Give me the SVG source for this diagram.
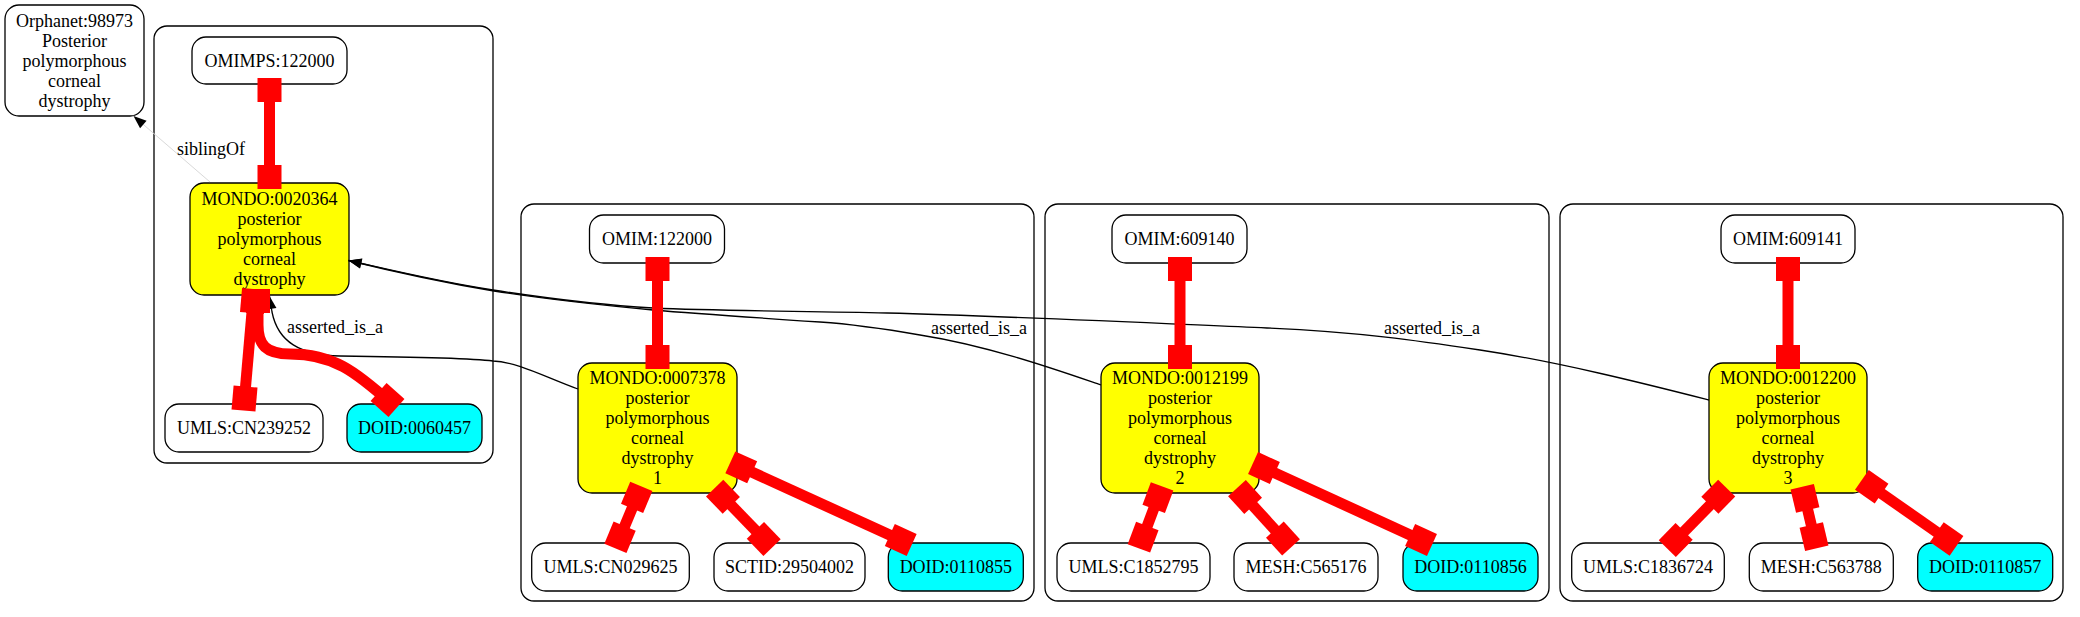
<svg xmlns="http://www.w3.org/2000/svg" width="2080" height="617" viewBox="0 0 2080 617">
<defs>
<style>
.bg{fill:#fff}
.cl{fill:none;stroke:#000;stroke-width:1.3}
.n rect{fill:#fff;stroke:#000;stroke-width:1.3}
.n.m rect{fill:#ffff00}
.n.d rect{fill:#00ffff}
text{font-family:"Liberation Serif","Times New Roman",serif;font-size:18px;fill:#000}
.n text{text-anchor:middle}
.r{fill:none;stroke:#ff0000;stroke-width:11;marker-start:url(#box);marker-end:url(#box)}
.b{fill:none;stroke:#000;stroke-width:1.3;marker-end:url(#arr)}
.s{fill:none;stroke:#d9d9d9;stroke-width:1;marker-end:url(#arr)}
</style>
<marker id="box" markerUnits="userSpaceOnUse" markerWidth="24" markerHeight="24" refX="18" refY="12" orient="auto-start-reverse" overflow="visible"><rect width="24" height="24" fill="#ff0000"/></marker>
<marker id="arr" markerUnits="userSpaceOnUse" markerWidth="14" markerHeight="10" refX="13" refY="5" orient="auto" overflow="visible"><path d="M0,0 L13,5 L0,10 z" fill="#000"/></marker>
</defs>
<rect class="bg" width="2080" height="617"/>
<g id="clusters">
<rect class="cl" x="154" y="26" width="339" height="437" rx="13"/>
<rect class="cl" x="521" y="204" width="513" height="397" rx="13"/>
<rect class="cl" x="1045" y="204" width="504" height="397" rx="13"/>
<rect class="cl" x="1560" y="204" width="503" height="397" rx="13"/>
</g>
<g id="orphanet" class="n"><rect x="5" y="5" width="139" height="111" rx="14"/>
<text x="74.5" y="26.5">Orphanet:98973</text><text x="74.5" y="46.5">Posterior</text><text x="74.5" y="66.5">polymorphous</text><text x="74.5" y="86.5">corneal</text><text x="74.5" y="106.5">dystrophy</text></g>
<g id="omimps122000" class="n"><rect x="192" y="37" width="155" height="47" rx="14"/><text x="269.5" y="66.5">OMIMPS:122000</text></g>
<g id="mondo0020364" class="n m"><rect x="190" y="183" width="159" height="112" rx="14"/>
<text x="269.5" y="205">MONDO:0020364</text><text x="269.5" y="225">posterior</text><text x="269.5" y="245">polymorphous</text><text x="269.5" y="265">corneal</text><text x="269.5" y="285">dystrophy</text></g>
<g id="umlscn239252" class="n"><rect x="165" y="404" width="158" height="48" rx="14"/><text x="244" y="434">UMLS:CN239252</text></g>
<g id="doid0060457" class="n d"><rect x="347" y="404" width="135" height="48" rx="14"/><text x="414.5" y="434">DOID:0060457</text></g>

<g id="omim122000" class="n"><rect x="589.5" y="215" width="135" height="48" rx="14"/><text x="657" y="245">OMIM:122000</text></g>
<g id="mondo0007378" class="n m"><rect x="578" y="363" width="159" height="130" rx="14"/>
<text x="657.5" y="384">MONDO:0007378</text><text x="657.5" y="404">posterior</text><text x="657.5" y="424">polymorphous</text><text x="657.5" y="444">corneal</text><text x="657.5" y="464">dystrophy</text><text x="657.5" y="484">1</text></g>
<g id="umlscn029625" class="n"><rect x="531.7" y="543" width="157.6" height="48" rx="14"/><text x="610.5" y="573">UMLS:CN029625</text></g>
<g id="sctid29504002" class="n"><rect x="714" y="543" width="151" height="48" rx="14"/><text x="789.5" y="573">SCTID:29504002</text></g>
<g id="doid0110855" class="n d"><rect x="888.3" y="543" width="135" height="48" rx="14"/><text x="955.8" y="573">DOID:0110855</text></g>

<g id="omim609140" class="n"><rect x="1112" y="215" width="135" height="48" rx="14"/><text x="1179.5" y="245">OMIM:609140</text></g>
<g id="mondo0012199" class="n m"><rect x="1101" y="363" width="158" height="130" rx="14"/>
<text x="1180" y="384">MONDO:0012199</text><text x="1180" y="404">posterior</text><text x="1180" y="424">polymorphous</text><text x="1180" y="444">corneal</text><text x="1180" y="464">dystrophy</text><text x="1180" y="484">2</text></g>
<g id="umlsc1852795" class="n"><rect x="1057" y="543" width="153" height="48" rx="14"/><text x="1133.5" y="573">UMLS:C1852795</text></g>
<g id="meshc565176" class="n"><rect x="1234" y="543" width="144" height="48" rx="14"/><text x="1306" y="573">MESH:C565176</text></g>
<g id="doid0110856" class="n d"><rect x="1403" y="543" width="135" height="48" rx="14"/><text x="1470.5" y="573">DOID:0110856</text></g>

<g id="omim609141" class="n"><rect x="1721" y="215" width="134" height="48" rx="14"/><text x="1788" y="245">OMIM:609141</text></g>
<g id="mondo0012200" class="n m"><rect x="1709" y="363" width="158" height="130" rx="14"/>
<text x="1788" y="384">MONDO:0012200</text><text x="1788" y="404">posterior</text><text x="1788" y="424">polymorphous</text><text x="1788" y="444">corneal</text><text x="1788" y="464">dystrophy</text><text x="1788" y="484">3</text></g>
<g id="umlsc1836724" class="n"><rect x="1571.7" y="543" width="152.6" height="48" rx="14"/><text x="1648" y="573">UMLS:C1836724</text></g>
<g id="meshc563788" class="n"><rect x="1749.3" y="543" width="144" height="48" rx="14"/><text x="1821.3" y="573">MESH:C563788</text></g>
<g id="doid0110857" class="n d"><rect x="1917.7" y="543" width="135" height="48" rx="14"/><text x="1985.2" y="573">DOID:0110857</text></g>

<g id="connectors">
<path class="s" d="M210,182 L133.5,116"/>
<text x="177" y="155">siblingOf</text>
<path class="b" d="M578,389 C545,377 518,362 493,361 C470,358 420,357 340,356 C300,355 278,342 272,312 L269.5,296"/>
<text x="287" y="333">asserted_is_a</text>
<path class="b" d="M1101,385 C1060,371 990,346 920,335 C880,328 850,324 820,322 C760,318 700,314 653,310 C600,305 545,299 494,291 C440,282 395,272 348.5,260.5"/>
<text x="931" y="334">asserted_is_a</text>
<path class="b" d="M1709,400 C1650,385 1560,362 1480,350 C1420,341 1360,332 1267,328 C1150,323 1000,316 887,313 C800,311 720,311 653,308 C600,305 545,298 493,290 C440,282 395,271 348.5,260.5"/>
<text x="1384" y="334">asserted_is_a</text>

<path class="r" d="M269.5,84 L269.5,183"/>
<path class="r" d="M253.5,295 L244,404.5"/>
<path class="r" d="M258,295 L258,325 C258,345 266,354 290,354 C333,354 355,371 392,404"/>

<path class="r" d="M657.5,263 L657.5,363"/>
<path class="r" d="M639,491.8 L617.7,542.8"/>
<path class="r" d="M718.8,492.4 L767.9,543.3"/>
<path class="r" d="M735.8,464.8 L906.2,542.5"/>

<path class="r" d="M1180,263 L1180,363"/>
<path class="r" d="M1160,492 L1141,542.8"/>
<path class="r" d="M1241,492.5 L1287,543"/>
<path class="r" d="M1258.5,465.5 L1426.5,542.5"/>

<path class="r" d="M1788,263 L1788,363"/>
<path class="r" d="M1722.5,492.4 L1671.5,544.3"/>
<path class="r" d="M1803.6,492.5 L1815.4,542.5"/>
<path class="r" d="M1866.8,483.3 L1951.6,542.4"/>
</g>
</svg>
